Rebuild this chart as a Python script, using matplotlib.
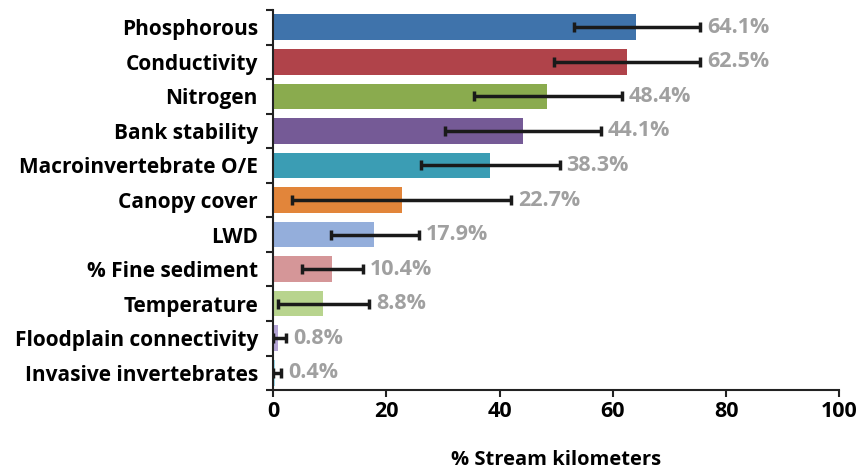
import numpy as np
import matplotlib.pyplot as plt
from matplotlib.ticker import FixedLocator

# -----------------------
# Data
# -----------------------
categories = ["Phosphorous", "Conductivity", "Nitrogen", "Bank stability",
              "Macroinvertebrate O/E", "Canopy cover", "LWD", "% Fine sediment",
              "Temperature", "Floodplain connectivity", "Invasive invertebrates"]
values = [64.1, 62.5, 48.4, 44.1, 38.3, 22.7, 17.9, 10.4, 8.8, 0.8, 0.4]
err_low = [53.1, 49.6, 35.4, 30.3, 26.2, 3.4, 10.3, 5.1, 0.9, 0.0, 0.0]
err_high = [75.4, 75.4, 61.6, 57.9, 50.6, 42.1, 25.8, 15.9, 17.0, 2.3, 1.4]
colors = ["#3f73ab", "#b0434a", "#8aab4e", "#755a96", "#3b9db4", "#e2853a",
          "#94aedb", "#d59698", "#b8d48e", "#b3a3d4", "#9fdcec"]

plt.rcParams['font.family'] = ['Open Sans', 'DejaVu Sans']
plt.rcParams['font.weight'] = 'bold'

# -----------------------
# Figure
# -----------------------
fig = plt.figure(figsize=(8.59, 4.74), dpi=100)
ax = fig.add_axes([0.318, 0.177, 0.659, 0.802])

y = np.arange(len(categories))
vals = np.array(values)
xerr = np.array([vals - np.array(err_low), np.array(err_high) - vals])

ax.barh(y, vals, height=0.74, color=colors, zorder=2)
ax.errorbar(vals, y, xerr=xerr, fmt="none", ecolor="#1a1a1a",
            elinewidth=2.5, capsize=3.5, capthick=2.5, zorder=3)

for yi, v, hi in zip(y, values, err_high):
    ax.annotate(f"{v}%", xy=(hi, yi), xytext=(5, 0), textcoords="offset points",
                va="center", ha="left", color="#a0a0a0", fontsize=15.5,
                fontweight="bold")

ax.set_ylim(len(categories) - 0.5, -0.5)
ax.set_xlim(0, 100)

ax.set_yticks(y)
ax.set_yticklabels(categories)
ax.yaxis.set_minor_locator(FixedLocator(np.arange(-0.5, len(categories), 1.0)))
ax.tick_params(axis="y", which="major", length=0, pad=11, labelsize=15)
ax.tick_params(axis="y", which="minor", length=5, width=1.5, color="#222222")

ax.set_xticks([0, 20, 40, 60, 80, 100])
ax.tick_params(axis="x", length=5, width=1.5, color="#222222", labelsize=15.5, pad=3)
ax.set_xlabel("% Stream kilometers", fontsize=14.5, fontweight="bold", labelpad=20)

for side in ["top", "right"]:
    ax.spines[side].set_visible(False)
for side in ["left", "bottom"]:
    ax.spines[side].set_linewidth(1.5)
    ax.spines[side].set_color("#222222")

plt.savefig("out.png", dpi=100)
